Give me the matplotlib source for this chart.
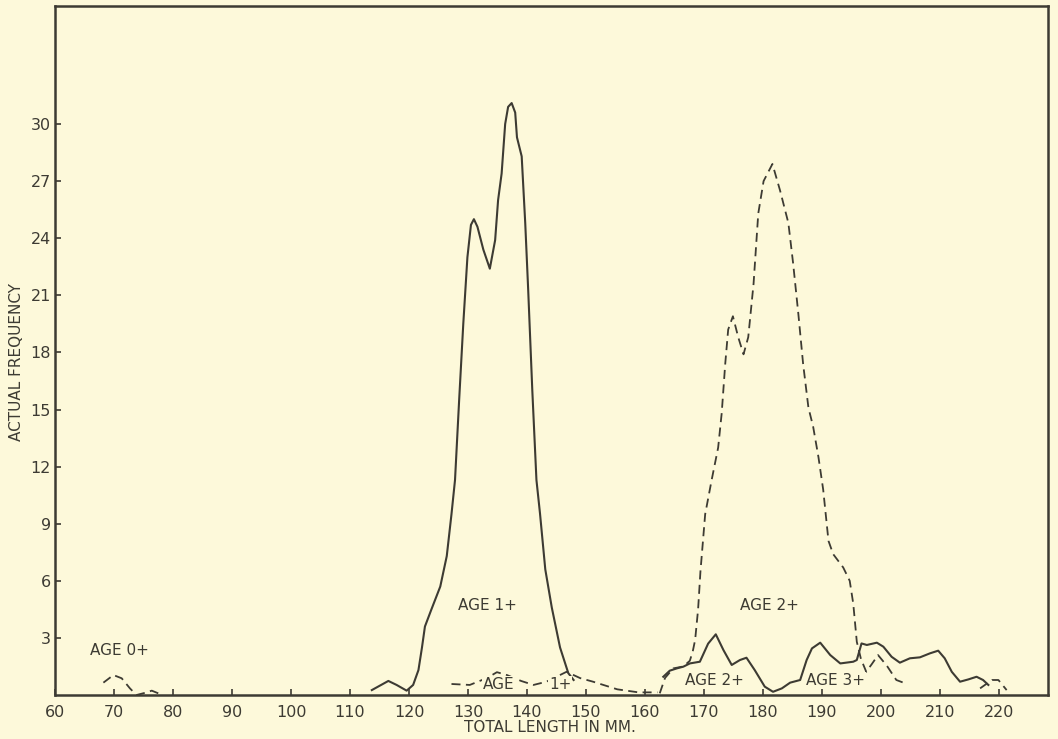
import matplotlib
matplotlib.use("Agg")
import matplotlib.pyplot as plt

# Age 0+ (dashed)
age0_len = [68.2, 69.9, 71.3, 72.7, 73.8, 75.3, 76.4, 77.5]
age0_freq = [0.65, 1.05, 0.88, 0.35, 0.0, 0.12, 0.23, 0.09]

# Age 1+ (solid, main peak)
age1_len = [113.7, 116.5, 117.9, 119.6, 120.7, 121.6, 122.2, 122.7, 123.8, 125.3,
            126.4, 127.2, 127.8, 128.5, 129.2, 129.9, 130.5, 131.0, 131.6, 132.6,
            133.7, 134.6, 135.1, 135.7, 136.3, 136.8, 137.4, 138.0, 138.3, 139.1,
            139.7, 140.2, 140.9, 141.6, 142.2, 143.1, 144.2, 145.6, 147.0, 147.9]
age1_freq = [0.26, 0.74, 0.53, 0.23, 0.53, 1.31, 2.5, 3.6, 4.5, 5.7,
             7.3, 9.5, 11.3, 15.5, 19.5, 23.0, 24.7, 25.0, 24.6, 23.4,
             22.4, 23.9, 26.0, 27.4, 30.0, 30.9, 31.1, 30.6, 29.3, 28.3,
             24.8, 21.3, 16.0, 11.3, 9.55, 6.6, 4.6, 2.5, 1.15, 0.79]

# Age 1+ (dashed, second sample)
age1b_len = [127.2, 130.3, 133.2, 134.9, 136.6, 139.0, 141.1, 143.3, 145.0, 146.7,
             149.0, 151.2, 155.3, 158.9, 162.1]
age1b_freq = [0.58, 0.53, 0.89, 1.2, 1.05, 0.74, 0.53, 0.7, 0.96, 1.22,
              0.89, 0.7, 0.3, 0.14, 0.14]

# Age 2+ (dashed, main peak)
age2_len = [162.5, 163.4, 164.8, 166.5, 167.6, 168.1, 168.5, 169.0, 169.4, 170.2,
            171.3, 172.4, 173.0, 173.6, 174.1, 174.9, 175.8, 176.7, 177.5, 178.4,
            179.2, 180.1, 181.6, 182.9, 184.3, 185.1, 186.0, 186.8, 187.7, 188.5,
            189.4, 190.2, 191.1, 191.9, 193.6, 194.7, 195.3, 195.9, 196.6, 197.5,
            198.5, 199.5, 200.3, 201.1, 202.6, 203.8]
age2_freq = [0.09, 0.9, 1.4, 1.5, 1.8, 2.3, 2.9, 4.5, 6.5, 9.5,
             11.3, 13.0, 14.8, 17.4, 19.2, 19.9, 18.8, 17.9, 18.8, 21.6,
             25.3, 27.0, 27.9, 26.5, 24.8, 22.7, 20.0, 17.4, 15.1, 14.1,
             12.5, 10.8, 8.1, 7.4, 6.7, 6.0, 4.8, 2.8, 1.9, 1.22,
             1.65, 2.1, 1.8, 1.49, 0.79, 0.65]

# Age 2+ / 3+ (solid, second sample)
age23_len = [163.1, 164.2, 165.4, 166.5, 167.6, 169.3, 170.7, 172.0, 173.3, 174.7,
             176.1, 177.2, 178.6, 180.3, 181.7, 183.2, 184.6, 186.3, 187.4, 188.3,
             189.7, 191.4, 193.1, 195.3, 195.9, 196.7, 197.6, 199.3, 200.4, 201.8,
             203.2, 204.9, 206.6, 208.3, 209.7, 210.8, 212.0, 213.4, 214.8, 216.2,
             217.3, 218.2]
age23_freq = [0.96, 1.28, 1.4, 1.49, 1.66, 1.75, 2.7, 3.19, 2.36, 1.58,
              1.84, 1.96, 1.31, 0.44, 0.17, 0.35, 0.65, 0.79, 1.84, 2.45,
              2.75, 2.1, 1.66, 1.75, 1.84, 2.71, 2.63, 2.75, 2.54, 2.01,
              1.7, 1.93, 1.98, 2.19, 2.33, 1.93, 1.22, 0.7, 0.82, 0.96,
              0.79, 0.53]

# tail (dashed)
tail_len = [216.8, 218.8, 219.9, 221.3]
tail_freq = [0.35, 0.79, 0.79, 0.26]

x_ticks = list(range(60, 221, 10))
y_ticks = list(range(3, 31, 3))

bg = "#fdf9da"
ink = "#3d3b33"

plt.rcParams['font.family'] = ['DejaVu Sans']

fig = plt.figure(figsize=(10.58, 7.39), dpi=100, facecolor=bg)
ax = fig.add_axes([0.052, 0.0595, 0.9385, 0.9324], facecolor=bg)

dash = dict(color=ink, lw=1.3, linestyle=(0, (5, 3)))
solid = dict(color=ink, lw=1.5)

ax.plot(age0_len, age0_freq, **dash)
ax.plot(age1_len, age1_freq, **solid)
ax.plot(age1b_len, age1b_freq, **dash)
ax.plot(age2_len, age2_freq, **dash)
ax.plot(age23_len, age23_freq, **solid)
ax.plot(tail_len, tail_freq, **dash)

ax.set_xlim(60, 228.3)
ax.set_ylim(0, 36.2)
ax.set_xticks(x_ticks)
ax.set_yticks(y_ticks)
ax.tick_params(direction="in", length=4, width=1.2, colors=ink, labelsize=11.5)
ax.tick_params(axis="y", pad=3)
ax.tick_params(axis="x", pad=7)
for s in ax.spines.values():
    s.set_color(ink)
    s.set_linewidth(1.8)

ax.set_xlabel("TOTAL LENGTH IN MM.", color=ink, fontsize=11)
ax.xaxis.set_label_coords(0.498, -0.036)
ax.set_ylabel("ACTUAL FREQUENCY", color=ink, fontsize=11)
ax.yaxis.set_label_coords(-0.031, 0.483)

txt = dict(color=ink, fontsize=11, ha="center", va="center")
box = dict(facecolor=bg, edgecolor="none", pad=0.5)
ax.text(71, 2.35, "AGE 0+", **txt)
ax.text(133.3, 4.7, "AGE 1+", **txt)
ax.text(181.1, 4.7, "AGE 2+", **txt)
ax.text(135.2, 0.55, "AGE", bbox=box, **txt)
ax.text(145.6, 0.55, "1+", bbox=box, **txt)
ax.text(171.8, 0.75, "AGE 2+", bbox=box, **txt)
ax.text(192.3, 0.75, "AGE 3+", bbox=box, **txt)

fig.savefig("out.png", dpi=100, facecolor=bg)
